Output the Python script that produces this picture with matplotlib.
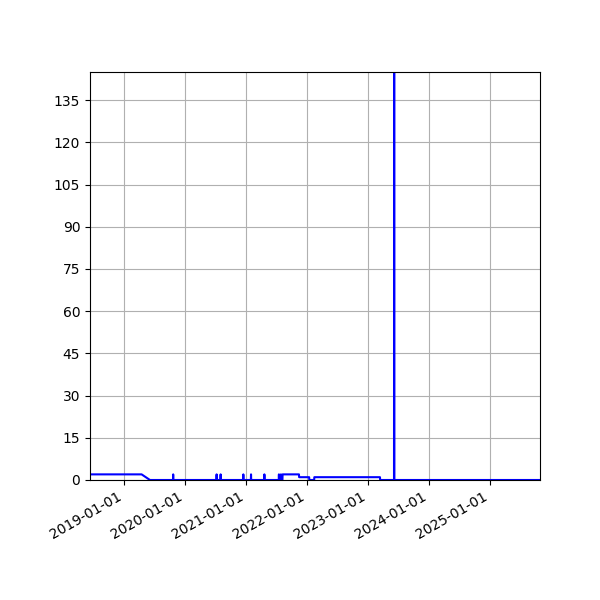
import matplotlib
matplotlib.use("Agg")
import matplotlib.pyplot as plt
import matplotlib.dates as mdates
from matplotlib.ticker import MultipleLocator
import pandas as pd

dates = ["2018-06-12", "2019-04-17", "2019-06-06",
         "2019-10-22", "2019-10-23", "2019-10-24",
         "2020-07-08", "2020-07-09", "2020-07-10",
         "2020-08-01", "2020-08-02", "2020-08-03",
         "2020-12-15", "2020-12-16", "2020-12-17",
         "2021-01-30", "2021-01-31", "2021-02-01",
         "2021-04-20", "2021-04-21", "2021-04-22",
         "2021-07-16", "2021-07-17", "2021-07-18",
         "2021-07-28", "2021-07-29", "2021-07-30",
         "2021-08-07", "2021-08-08",
         "2021-11-14", "2021-11-15",
         "2022-01-14", "2022-01-15",
         "2022-02-13", "2022-02-14",
         "2023-03-14", "2023-03-15",
         "2023-06-06", "2023-06-07", "2023-06-08",
         "2025-10-27"]
values = [2, 2, 0,
          0, 2, 0,
          0, 2, 0,
          0, 2, 0,
          0, 2, 0,
          0, 2, 0,
          0, 2, 0,
          0, 2, 0,
          0, 2, 0,
          0, 2,
          2, 1,
          1, 0,
          0, 1,
          1, 0,
          0, 150, 0,
          0]

x = pd.to_datetime(dates)

fig = plt.figure(figsize=(6, 6), dpi=100)
ax = fig.add_subplot(111)
ax.plot(x, values, color="blue", linewidth=1.5)
ax.set_xlim(x[0], x[-1])
ax.set_ylim(0, 145)
ax.yaxis.set_major_locator(MultipleLocator(15))
ax.xaxis.set_major_locator(mdates.YearLocator())
ax.xaxis.set_major_formatter(mdates.DateFormatter("%Y-%m-%d"))
ax.grid(True, color="#b0b0b0")
fig.autofmt_xdate()
fig.subplots_adjust(left=0.15, right=0.9, top=0.88, bottom=0.2)
fig.savefig("out.png")
